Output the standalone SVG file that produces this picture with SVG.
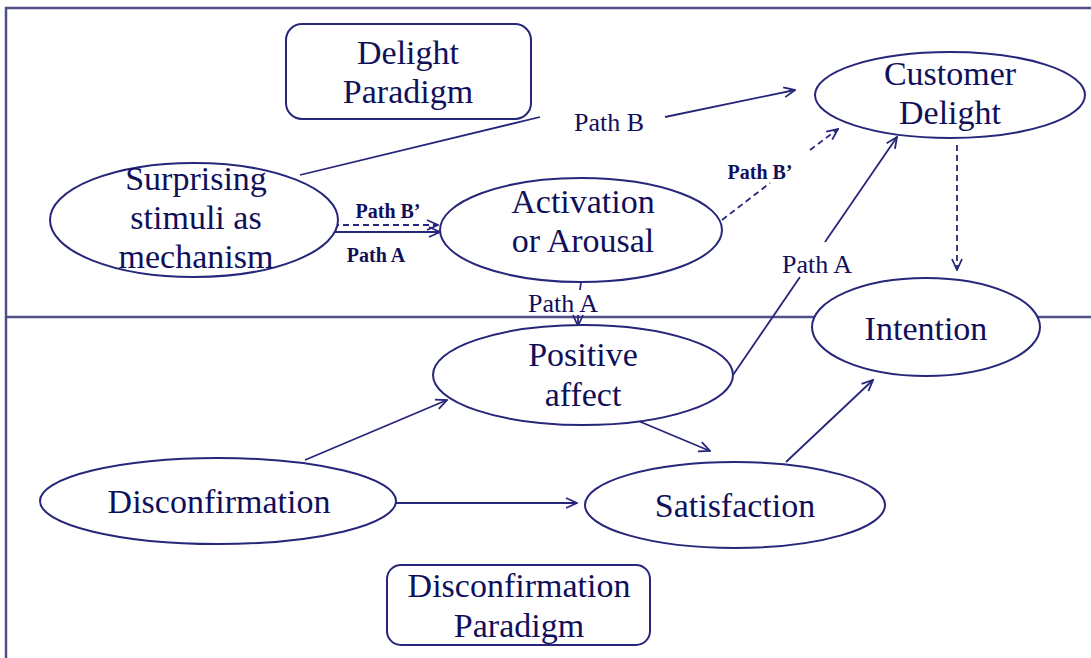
<svg xmlns="http://www.w3.org/2000/svg" width="1091" height="658" viewBox="0 0 1091 658">
<style>
.n{fill:#fff;stroke:#26267a;stroke-width:2}
.t{font-family:"Liberation Serif","Times New Roman",serif;font-size:34px;fill:#10105a;text-anchor:middle}
.p{font-family:"Liberation Serif","Times New Roman",serif;font-size:26px;fill:#10105a;text-anchor:middle}
.b{font-family:"Liberation Serif","Times New Roman",serif;font-size:20px;font-weight:bold;fill:#10105a;text-anchor:middle}
.c{fill:none;stroke:#26267a;stroke-width:1.8}
.d{stroke-dasharray:6 4}
.f{fill:none;stroke:#505088;stroke-width:2.5}
</style>
<defs>
<marker id="ar" markerWidth="14" markerHeight="14" viewBox="0 0 14 14" refX="13" refY="7" orient="auto" markerUnits="userSpaceOnUse">
<path d="M2 2 L13 7 L2 12" fill="none" stroke="#26267a" stroke-width="1.8"/>
</marker>
</defs>
<rect width="1091" height="658" fill="#fff"/>
<g id="frame">
<path class="f" d="M1091 8 H6 V658"/>
<path class="f" d="M6 317 H1091"/>
</g>
<g id="connectors">
<path class="c" d="M300 175 L540 117"/>
<path class="c" d="M665 117 L795 90" marker-end="url(#ar)"/>
<path class="c d" d="M333 225 L438 225" marker-end="url(#ar)"/>
<path class="c" d="M333 232 L440 232" marker-end="url(#ar)"/>
<path class="c d" d="M722 220 L770 183"/>
<path class="c d" d="M810 150 L838 129" marker-end="url(#ar)"/>
<path class="c" d="M733 375 L800 277"/>
<path class="c" d="M825 242 L897 137" marker-end="url(#ar)"/>
<path class="c d" d="M957 145 L957 270" marker-end="url(#ar)"/>
<path class="c" d="M581 282 L580 290"/>
<path class="c" d="M578 315 L578 326" marker-end="url(#ar)"/>
<path class="c" d="M305 460 L447 400" marker-end="url(#ar)"/>
<path class="c" d="M636 420 L710 451" marker-end="url(#ar)"/>
<path class="c" d="M395 503 L577 503" marker-end="url(#ar)"/>
<path class="c" d="M786 462 L873 380" marker-end="url(#ar)"/>
</g>
<g id="labels">
<text class="p" x="609" y="131">Path B</text>
<text class="p" x="817" y="273">Path A</text>
<text class="p" x="563" y="312">Path A</text>
<text class="b" x="388" y="218">Path B’</text>
<text class="b" x="376" y="262">Path A</text>
<text class="b" x="760" y="179">Path B’</text>
</g>
<g id="delight-paradigm">
<rect class="n" x="286" y="24" width="245" height="95" rx="16"/>
<text class="t" x="408" y="64">Delight</text>
<text class="t" x="408" y="103">Paradigm</text>
</g>
<g id="surprising">
<ellipse class="n" cx="194" cy="220" rx="144" ry="57"/>
<text class="t" x="196" y="190">Surprising</text>
<text class="t" x="196" y="229">stimuli as</text>
<text class="t" x="196" y="268">mechanism</text>
</g>
<g id="activation">
<ellipse class="n" cx="581" cy="230" rx="141" ry="52"/>
<text class="t" x="583" y="213">Activation</text>
<text class="t" x="583" y="252">or Arousal</text>
</g>
<g id="customer-delight">
<ellipse class="n" cx="950" cy="95" rx="135" ry="43"/>
<text class="t" x="950" y="85">Customer</text>
<text class="t" x="950" y="124">Delight</text>
</g>
<g id="intention">
<ellipse class="n" cx="926" cy="327" rx="114" ry="49"/>
<text class="t" x="926" y="340">Intention</text>
</g>
<g id="positive-affect">
<ellipse class="n" cx="583" cy="375" rx="150" ry="50"/>
<text class="t" x="583" y="366">Positive</text>
<text class="t" x="583" y="406">affect</text>
</g>
<g id="disconfirmation">
<ellipse class="n" cx="218" cy="501" rx="178" ry="43"/>
<text class="t" x="219" y="513">Disconfirmation</text>
</g>
<g id="satisfaction">
<ellipse class="n" cx="735" cy="505" rx="150" ry="43"/>
<text class="t" x="735" y="517">Satisfaction</text>
</g>
<g id="disconfirmation-paradigm">
<rect class="n" x="387" y="565" width="263" height="80" rx="14"/>
<text class="t" x="519" y="597">Disconfirmation</text>
<text class="t" x="519" y="637">Paradigm</text>
</g>
</svg>
